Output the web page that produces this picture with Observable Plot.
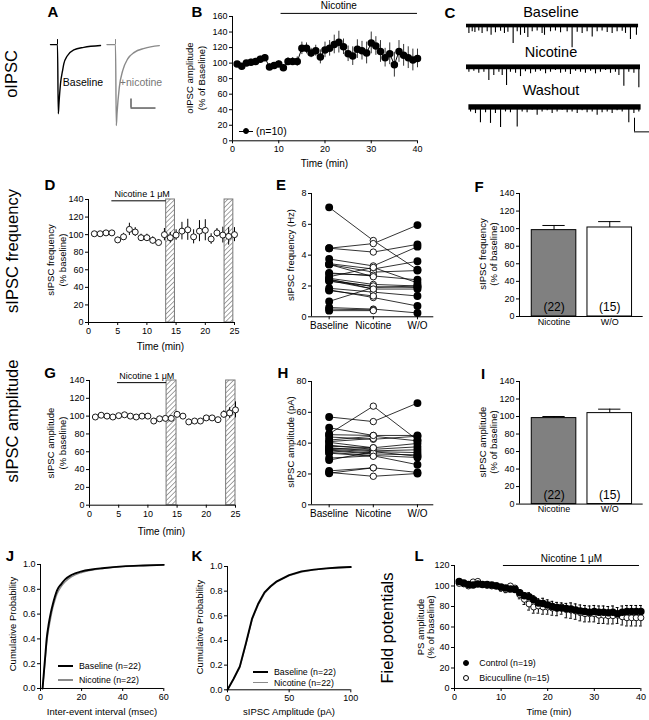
<!DOCTYPE html>
<html><head><meta charset="utf-8">
<script src="https://cdn.jsdelivr.net/npm/d3@7"></script>
<script src="https://cdn.jsdelivr.net/npm/@observablehq/plot@0.6"></script>
<style>
body{margin:0;background:#fff;font-family:"Liberation Sans",Arial,Helvetica,sans-serif;}
#fig{position:relative;width:649px;height:720px;overflow:hidden;background:#fff;}
.t{position:absolute;white-space:nowrap;color:#000;line-height:1;}
.sw{position:absolute;box-sizing:border-box;}
</style></head><body><div id="fig"></div>
<script>
// ---------------- DATA ----------------
// Panel A: evoked IPSC traces (time ms from stimulus, current pA)
const aBaseT = [-7, 0, 0.8, 1.5, 3, 5, 6.3, 9.7, 16.3, 26.3, 43];
const aBaseI = [0, 0, -760, -640, -430, -290, -212, -125, -58, -30, -10];
const aNicT = [-8.5, 0, 0.8, 1.5, 3.8, 7.2, 12.2, 18.8, 28.8, 43.8];
const aNicI = [0, 0, -890, -760, -470, -286, -157, -85, -41, -11];
const aArtifact = 55;          // stimulus artifact height (pA)
const aScale = {t: 15.5, i: -697, ms: 25, pA: 100};

// Panel B: oIPSC amplitude (% of baseline)
const bTime = [1,2,3,4,5,6,7,8,9,10,11,12,13,14,15,16,17,18,19,20,21,22,23,24,25,26,27,28,29,30,31,32,33,34,35,36,37,38,39,40];
const bMean = [99,96,100,101,102,105,107,95,97,99,94,102,102,102,119,119,113,116,108,117,119,124,127,121,112,109,118,116,113,126,122,115,107,112,98,115,110,107,104,106];
const bSem  = [3,3,3,4,4,4,4,4,3,4,4,5,5,6,8,7,6,7,9,10,10,12,14,10,10,12,12,12,14,14,12,14,12,14,16,14,14,14,14,12];
const bNic = {start: 10.5, end: 40, y: 164, lx: 23, label: "Nicotine"};

// Panel C: sIPSC traces, spikes as [time s, amplitude pA]
const cBaseline = [[0.16,30],[0.38,24],[0.56,27],[0.82,21],[1.04,30],[1.38,24],[1.64,37],[1.93,28],[2.27,22],[2.53,30],[2.76,26],[3.11,67],[3.38,24],[3.6,37],[3.87,30],[4.09,45],[4.38,24],[4.71,21],[5.04,30],[5.2,37],[5.6,24],[5.93,21],[6.27,28],[6.71,24],[7.04,83],[7.38,26],[7.71,30],[8.04,24],[8.38,43],[8.71,24],[9.04,21],[9.38,27],[9.71,30],[10.04,24],[10.38,22],[10.6,30],[10.93,52],[11.33,37]];
const cNicotine = [[0.16,22],[0.49,18],[0.82,26],[1.16,22],[1.49,52],[1.82,34],[2.16,22],[2.38,34],[2.67,71],[2.93,22],[3.27,26],[3.6,38],[3.93,20],[4.27,28],[4.6,22],[4.93,18],[5.27,28],[5.6,22],[5.93,16],[6.27,26],[6.6,22],[6.93,30],[7.27,18],[7.6,22],[7.93,26],[8.27,18],[8.6,28],[8.93,22],[9.27,16],[9.6,26],[9.93,22],[10.16,34],[10.49,73],[10.82,22],[11.16,26],[11.49,79]];
const cWashout = [[0.27,21],[0.6,27],[0.93,61],[1.27,24],[1.6,63],[1.93,27],[2.27,78],[2.6,21],[2.93,24],[3.38,76],[3.71,21],[4.04,24],[4.38,15],[4.71,33],[5.04,21],[5.38,17],[5.71,27],[6.04,21],[6.38,15],[6.71,24],[7.04,21],[7.38,27],[7.71,17],[8.04,24],[8.38,21],[8.71,33],[9.04,24],[9.38,21],[9.71,27],[10.04,17],[10.38,21],[10.82,61],[11.16,27],[11.49,21]];
const cSpan = [[0, 11.47], [0, 11.6], [0.16, 11.64]];
const cNoise = [6, 8, 9];
const cNames = ["Baseline", "Nicotine", "Washout"];
const cScale = {t: 11.2, a: -94, s: 1, pA: 50};

// Panel D: sIPSC frequency (% baseline)
const dTime = [1,2,3,4,5,6,7,8,9,10,11,12,13,14,15,16,17,18,19,20,21,22,23,24,25];
const dMean = [101,101,102,102,94,97.5,106,103,96.5,96.5,93.5,91,100,96.5,99.5,104,105.5,97.5,104,105,95,102,99.5,98,100];
const dSem  = [1.5,1.5,1.5,1.5,3,4,7,5,4,4,4,3,7,6,6,10,12,8,12,12,6,5,9,10,8];
const dNic = {start: 4, end: 13.3, y: 138.5, lx: 9.2, label: "Nicotine 1 μM"};
const dWash = [{s: 13.3, e: 14.8}, {s: 23.3, e: 24.8}];

// Panel E: sIPSC frequency (Hz) per cell
const eCats = ["Baseline", "Nicotine", "W/O"];
const eBase = [7.1,4.45,4.45,3.75,3.45,3.4,2.85,2.6,2.5,2.4,2.35,1.85,1.75,1.0,0.6,0.5,0.4,2.8,2.3,3.4,1.7,2.45];
const eNic  = [4.95,4.75,4.2,3.3,3.1,2.9,2.65,3.2,2.1,1.95,1.8,1.6,1.25,1.9,0.5,0.45,0.4,2.7,2.0,2.6,1.35,1.8];
const eWO   = [3.05,5.95,4.7,4.55,3.6,3.0,2.4,2.2,2.0,1.9,1.8,1.35,0.7,2.0,0.25,null,null,null,null,null,null,null];

// Panel F / I: bar summaries
const barCats = ["Nicotine", "W/O"];
const fMean = [98.3, 101.3], fSem = [5.3, 6.7];
const iMean = [98.2, 103.9], iSem = [1.8, 4.5];
const barN = [22, 15];

// Panel G: sIPSC amplitude (% baseline)
const gMean = [99,101,100,99,100.5,101.5,100,99,100,100,94.5,97,97.5,97.5,102,100,93.5,94.5,94.5,98,98,96,102,103.5,107];
const gSem  = [2,2,2,2,2,2,2,2,2,3,3,2,3,3,3,2,3,2,2,2,2,2,4,6,9];
const gNic = {start: 4.8, end: 13.2, y: 137.6, lx: 9.8, label: "Nicotine 1 μM"};
const gWash = [{s: 13.2, e: 14.9}, {s: 23.4, e: 25}];

// Panel H: sIPSC amplitude (pA) per cell
const hBase = [57,50,46,44,42,40.5,38.7,37,36,35,34,30.3,29,22,21,36.5,35.5,33.5,38,41,20.5,45.5];
const hNic  = [54,45,64,42.5,44.5,37,36,35,34.5,33,32,31.8,34.5,24,18.5,36,33.5,31.5,37,43,24,45];
const hWO   = [66,45,42,44.5,41.5,39.8,37.6,35.7,33.9,32.4,30.7,26,31.5,21,20.3,null,null,null,null,null,null,null];

// Panel J: cumulative inter-event interval
const jX    = [1,1.5,2,2.5,3,4,5,6,7,8,10,12,15,20,25,30,40,50,60];
const jBase = [0,0.1,0.2,0.3,0.4,0.52,0.61,0.68,0.74,0.79,0.84,0.88,0.915,0.945,0.96,0.97,0.985,0.992,0.997];
const jNic  = [0,0.09,0.18,0.27,0.36,0.48,0.57,0.65,0.71,0.76,0.82,0.86,0.9,0.935,0.955,0.967,0.983,0.991,0.997];

// Panel K: cumulative amplitude
const kX    = [0,5,10,15,20,25,30,35,40,50,60,70,80,90,100];
const kBase = [0,0.09,0.19,0.38,0.58,0.7,0.79,0.84,0.88,0.93,0.96,0.975,0.985,0.992,0.996];
const kNic  = [0,0.09,0.18,0.37,0.57,0.69,0.78,0.835,0.875,0.925,0.955,0.972,0.983,0.99,0.995];

// Panel L: field potentials
const lCtrl    = [104.5,103,101.5,101,102,101.5,101.5,101,100,99,98,97,96.5,93.5,90.5,89.5,86.5,83.5,83,81.5,80,79,78.5,78,77.5,76.5,75.5,75,74.5,75,74.5,74.5,74,74.5,73,74.5,75,75,75,75];
const lCtrlSem = [2,2,2,2,2,2,2,2,2,2,2,2,3,3,3,4,4,4,5,5,5,5,5,5,6,6,6,6,6,6,6,6,6,6,6,6,6,6,6,6];
const lBic     = [102.5,102,100,104,104.5,101.5,100.5,100,100.5,98,96.5,100,98,91.5,87,82.5,79.5,80.5,79.5,79.5,78.5,78,79.5,77,76.5,75.5,74,73,73,73,71.5,71.5,71,71,71.5,70,69,69,69,69];
const lBicSem  = [2,2,2,2,2,2,2,2,2,3,3,3,3,4,5,6,6,7,7,7,7,7,7,8,8,8,8,8,8,8,8,8,8,8,8,8,8,8,8,8];
const lNic = {start: 10.5, end: 39.7, y: 120, lx: 25.1, label: "Nicotine 1 μM"};

// ---------------- HELPERS ----------------
const FONT = '"Liberation Sans", Arial, Helvetica, sans-serif';
const fig = document.getElementById("fig");

function addText(txt, x, y, o = {}) {
  const d = document.createElement("div");
  d.className = "t";
  d.textContent = txt;
  d.style.fontSize = (o.size || 9.5) + "px";
  d.style.fontWeight = o.weight || "normal";
  d.style.color = o.color || "#000";
  d.style.left = x + "px"; d.style.top = y + "px";
  const tx = o.anchor === "start" ? "0" : o.anchor === "end" ? "-100%" : "-50%";
  d.style.transform = `translate(${tx},-50%)` + (o.rotate ? " rotate(-90deg)" : "");
  fig.appendChild(d);
}
function swLine(x1, x2, y, color, w) {
  const d = document.createElement("div"); d.className = "sw";
  Object.assign(d.style, {left: x1 + "px", top: (y - w / 2) + "px", width: (x2 - x1) + "px", height: w + "px", background: color});
  fig.appendChild(d);
}
function swDot(cx, cy, r, fill) {
  const d = document.createElement("div"); d.className = "sw";
  Object.assign(d.style, {left: (cx - r) + "px", top: (cy - r) + "px", width: 2 * r + "px", height: 2 * r + "px", background: fill, border: "1px solid #000", borderRadius: "50%"});
  fig.appendChild(d);
}
function place(svg, left, top) {
  svg.style.position = "absolute";
  svg.style.left = left + "px";
  svg.style.top = top + "px";
  fig.appendChild(svg);
  return svg;
}
const baseStyle = {fontFamily: FONT, fontSize: "9px", background: "none", overflow: "visible", color: "#000"};

function panel(o) {
  const ml = 34, mr = 14, mt = 14, mb = 22;
  const W = o.x1 - o.x0 + ml + mr, H = o.y1 - o.y0 + mt + mb;
  const marks = [
    Plot.axisX(o.xTicks, {tickSize: o.xTickSize ?? 3, tickPadding: 2, tickFormat: o.xFormat, fontSize: o.xFont ?? 9, label: null}),
    Plot.axisY(o.yTicks, {tickSize: 3, tickPadding: 2, tickFormat: o.yFormat, fontSize: o.yFont ?? 9, label: null}),
    ...o.marks,
    Plot.ruleX([o.xDomain[0]], {stroke: "#000", strokeWidth: 1}),
    Plot.ruleY([o.yDomain[0]], {stroke: "#000", strokeWidth: 1})
  ];
  const svg = Plot.plot({
    width: W, height: H, marginLeft: ml, marginRight: mr, marginTop: mt, marginBottom: mb,
    x: {domain: o.xDomain}, y: {domain: o.yDomain},
    style: baseStyle, marks
  });
  if (o.defs) d3.select(svg).insert("defs", ":first-child").html(o.defs);
  return place(svg, o.x0 - ml, o.y0 - mt);
}
const hatch = id => `<pattern id="${id}" patternUnits="userSpaceOnUse" width="3.4" height="3.4" patternTransform="rotate(45)"><rect width="3.4" height="3.4" fill="#fff"/><line x1="0" y1="0" x2="0" y2="3.4" stroke="#777" stroke-width="1.3"/></pattern>`;
const rows = (xs, ys, es) => xs.map((x, k) => ({t: x, v: ys[k], e: es ? es[k] : 0}));
const range = (a, b, s) => d3.range(a, b + s / 2, s);

// ---------------- PANEL A ----------------
function aTrace(T, I, left, color, extra) {
  const data = T.map((t, k) => ({t, i: I[k]}));
  const svg = Plot.plot({
    width: 60, height: 91, marginLeft: 0, marginRight: 0, marginTop: 0, marginBottom: 0,
    x: {domain: [-10, 50], axis: null}, y: {domain: [-900, 100], axis: null},
    style: baseStyle,
    marks: [
      Plot.ruleX([0], {y1: 0, y2: aArtifact, stroke: color, strokeWidth: 1}),
      Plot.line(data, {x: "t", y: "i", stroke: color, strokeWidth: 1.4, curve: "monotone-x"}),
      ...(extra || [])
    ]
  });
  place(svg, left, 34.9);
}
aTrace(aBaseT, aBaseI, 47, "#000");
aTrace(aNicT, aNicI, 104.5, "#8a8a8a", [
  Plot.ruleX([aScale], {x: "t", y1: "i", y2: d => d.i + d.pA, stroke: "#444", strokeWidth: 1.3}),
  Plot.ruleY([aScale], {y: "i", x1: "t", x2: d => d.t + d.ms, stroke: "#444", strokeWidth: 1.3})
]);
addText("Baseline", 83, 82, {size: 10.5});
addText("+nicotine", 141, 82, {size: 10.5, color: "#777"});

// ---------------- PANEL B ----------------
const bRows = rows(bTime, bMean, bSem);
panel({
  x0: 232, x1: 417, y0: 15.7, y1: 140, xDomain: [0, 40], yDomain: [0, 160],
  xTicks: [0, 10, 20, 30, 40], yTicks: range(0, 160, 20),
  marks: [
    Plot.ruleY([bNic], {y: "y", x1: "start", x2: "end", stroke: "#000"}),
    Plot.text([bNic], {x: "lx", y: "y", text: "label", dy: -8, fontSize: 10}),
    Plot.ruleX(bRows, {x: "t", y1: d => d.v - d.e, y2: d => d.v + d.e, stroke: "#333", strokeWidth: 1}),
    Plot.line(bRows, {x: "t", y: "v", stroke: "#000", strokeWidth: 1}),
    Plot.dot(bRows, {x: "t", y: "v", r: 3, fill: "#000", stroke: "#000"})
  ]
});
swLine(239, 253, 131, "#000", 1); swDot(246, 131, 3, "#000");
addText("(n=10)", 256, 131, {size: 10.5, anchor: "start"});
addText("Time (min)", 324.5, 164, {size: 10});
addText("oIPSC amplitude", 189.5, 78, {size: 9.5, rotate: true});
addText("(% of Baseline)", 201.5, 78, {size: 9.5, rotate: true});

// ---------------- PANEL C ----------------
const cTraces = [cBaseline, cNicotine, cWashout];
const cCenters = [25, 65.7, 106];
const cLabelY = [11.7, 52.3, 90];
cTraces.forEach((sp, k) => {
  const spikes = sp.map(([t, a]) => ({t, a}));
  const extra = k === 2 ? [
    Plot.ruleX([cScale], {x: "t", y1: "a", y2: d => d.a + d.pA, stroke: "#000", strokeWidth: 1}),
    Plot.ruleY([cScale], {y: "a", x1: "t", x2: d => d.t + d.s, stroke: "#000", strokeWidth: 1})
  ] : [];
  const svg = Plot.plot({
    width: 190.5, height: 30, marginLeft: 6, marginRight: 12, marginTop: 0, marginBottom: 0,
    x: {domain: [0, 11.5], axis: null}, y: {domain: [-100, 10], axis: null},
    style: baseStyle,
    marks: [
      Plot.rect([{s: cSpan[k][0], e: cSpan[k][1], n: cNoise[k]}], {x1: "s", x2: "e", y1: d => -d.n * 1.6, y2: d => d.n * 0.6, fill: "#000"}),
      Plot.ruleX(spikes, {x: "t", y1: 0, y2: d => -d.a, stroke: "#000", strokeWidth: 1.1}),
      ...extra
    ]
  });
  place(svg, 460, cCenters[k] - 30 * 10 / 110);
  addText(cNames[k], 551, cLabelY[k], {size: 14.5});
});

// ---------------- PANEL D ----------------
const dRows = rows(dTime, dMean, dSem);
panel({
  x0: 87.5, x1: 233.5, y0: 198.7, y1: 321.7, xDomain: [0, 25], yDomain: [0, 140],
  xTicks: [0, 5, 10, 15, 20, 25], yTicks: range(0, 140, 20), defs: hatch("hatchD"),
  marks: [
    Plot.rect(dWash, {x1: "s", x2: "e", y1: 0, y2: 140, fill: "url(#hatchD)", stroke: "#777", strokeWidth: 1}),
    Plot.ruleY([dNic], {y: "y", x1: "start", x2: "end", stroke: "#000"}),
    Plot.text([dNic], {x: "lx", y: "y", text: "label", dy: -7, fontSize: 9}),
    Plot.ruleX(dRows, {x: "t", y1: d => d.v - d.e, y2: d => d.v + d.e, stroke: "#000"}),
    Plot.dot(dRows, {x: "t", y: "v", r: 3, fill: "#fff", stroke: "#000", strokeWidth: 0.9})
  ]
});
addText("Time (min)", 160.5, 346.7, {size: 10});
addText("sIPSC frequency", 51, 260, {size: 9.5, rotate: true});
addText("(% baseline)", 63, 260, {size: 9.5, rotate: true});

// ---------------- PANEL E / H (paired) ----------------
function paired(base, nic, wo) {
  const out = [];
  base.forEach((v, c) => {
    out.push({cell: c, i: 0, v});
    out.push({cell: c, i: 1, v: nic[c]});
    if (wo[c] != null) out.push({cell: c, i: 2, v: wo[c]});
  });
  return out;
}
function pairedPanel(y0, y1, yMax, yStep, data) {
  panel({
    x0: 310.7, x1: 433, y0, y1, xDomain: [-0.4, 2.37], yDomain: [0, yMax],
    xTicks: [0, 1, 2], xFormat: i => eCats[i], xFont: 10, yTicks: range(0, yMax, yStep),
    marks: [
      Plot.line(data, {x: "i", y: "v", z: "cell", stroke: "#000", strokeWidth: 0.8}),
      Plot.dot(data.filter(d => d.i !== 1), {x: "i", y: "v", r: 3.2, fill: "#000", stroke: "#000"}),
      Plot.dot(data.filter(d => d.i === 1), {x: "i", y: "v", r: 3.2, fill: "#fff", stroke: "#000", strokeWidth: 0.9})
    ]
  });
}
pairedPanel(192.7, 316, 8, 2, paired(eBase, eNic, eWO));
addText("sIPSC frequency (Hz)", 291, 255, {size: 9.5, rotate: true});
pairedPanel(380.7, 504, 80, 20, paired(hBase, hNic, hWO));
addText("sIPSC amplitude (pA)", 291, 442, {size: 9.5, rotate: true});

// ---------------- PANEL F / I (bars) ----------------
function barPanel(y0, y1, mean, sem) {
  const data = mean.map((v, i) => ({i, v, e: sem[i], n: barN[i]}));
  panel({
    x0: 519.3, x1: 643, y0, y1, xDomain: [-0.62, 1.6], yDomain: [0, 140],
    xTicks: [0, 1], xFormat: i => barCats[i], xTickSize: 0, yTicks: range(0, 140, 20),
    marks: [
      Plot.ruleX(data, {x: "i", y1: "v", y2: d => d.v + d.e, stroke: "#000"}),
      Plot.ruleY(data, {y: d => d.v + d.e, x1: d => d.i - 0.2, x2: d => d.i + 0.2, stroke: "#000"}),
      Plot.rect(data.slice(0, 1), {x1: d => d.i - 0.4, x2: d => d.i + 0.4, y1: 0, y2: "v", fill: "#808080", stroke: "#000"}),
      Plot.rect(data.slice(1), {x1: d => d.i - 0.4, x2: d => d.i + 0.4, y1: 0, y2: "v", fill: "#fff", stroke: "#000"}),
      Plot.text(data, {x: "i", y: 0, text: d => `(${d.n})`, dy: -9, fontSize: 12})
    ]
  });
}
barPanel(192.7, 315.7, fMean, fSem);
addText("sIPSC frequency", 483, 254, {size: 9.5, rotate: true});
addText("(% of baseline)", 494, 254, {size: 9.5, rotate: true});
barPanel(380.7, 503.3, iMean, iSem);
addText("sIPSC amplitude", 483, 442, {size: 9.5, rotate: true});
addText("(% of baseline)", 494, 442, {size: 9.5, rotate: true});

// ---------------- PANEL G ----------------
const gRows = rows(dTime, gMean, gSem);
panel({
  x0: 88.5, x1: 234.5, y0: 380.3, y1: 505, xDomain: [0, 25], yDomain: [0, 140],
  xTicks: [0, 5, 10, 15, 20, 25], yTicks: range(0, 140, 20), defs: hatch("hatchG"),
  marks: [
    Plot.rect(gWash, {x1: "s", x2: "e", y1: 0, y2: 140, fill: "url(#hatchG)", stroke: "#777", strokeWidth: 1}),
    Plot.ruleY([gNic], {y: "y", x1: "start", x2: "end", stroke: "#000"}),
    Plot.text([gNic], {x: "lx", y: "y", text: "label", dy: -7, fontSize: 9}),
    Plot.ruleX(gRows, {x: "t", y1: d => d.v - d.e, y2: d => d.v + d.e, stroke: "#000"}),
    Plot.dot(gRows, {x: "t", y: "v", r: 3, fill: "#fff", stroke: "#000", strokeWidth: 0.9})
  ]
});
addText("Time (min)", 161.5, 531.7, {size: 10});
addText("sIPSC amplitude", 51, 443, {size: 9.5, rotate: true});
addText("(% baseline)", 63, 443, {size: 9.5, rotate: true});

// ---------------- PANEL J ----------------
const jB = jX.map((x, k) => ({x, y: jBase[k]})), jN = jX.map((x, k) => ({x, y: jNic[k]}));
panel({
  x0: 40, x1: 163.3, y0: 564.3, y1: 688.3, xDomain: [0, 60], yDomain: [0, 1],
  xTicks: [0, 20, 40, 60], yTicks: range(0, 1, 0.2), yFormat: d3.format(".1f"),
  marks: [
    Plot.line(jN, {x: "x", y: "y", stroke: "#8a8a8a", strokeWidth: 1.3, curve: "monotone-x"}),
    Plot.line(jB, {x: "x", y: "y", stroke: "#000", strokeWidth: 1.9, curve: "monotone-x"})
  ]
});
swLine(58, 73, 665.7, "#000", 2); addText("Baseline (n=22)", 79, 665.7, {size: 8.8, anchor: "start"});
swLine(58, 73, 680, "#8a8a8a", 1.2); addText("Nicotine (n=22)", 79, 680, {size: 8.8, anchor: "start"});
addText("Inter-event interval (msec)", 102, 712, {size: 9.5});
addText("Cumulative Probability", 13, 624, {size: 9.5, rotate: true});

// ---------------- PANEL K ----------------
const kB = kX.map((x, k) => ({x, y: kBase[k]})), kN = kX.map((x, k) => ({x, y: kNic[k]}));
panel({
  x0: 226.7, x1: 350, y0: 565.7, y1: 689, xDomain: [0, 100], yDomain: [0, 1],
  xTicks: [0, 50, 100], yTicks: range(0, 1, 0.2), yFormat: d3.format(".1f"),
  marks: [
    Plot.line(kN, {x: "x", y: "y", stroke: "#8a8a8a", strokeWidth: 1.3}),
    Plot.line(kB, {x: "x", y: "y", stroke: "#000", strokeWidth: 1.9})
  ]
});
swLine(253, 268, 672, "#000", 2); addText("Baseline (n=22)", 274, 672, {size: 8.8, anchor: "start"});
swLine(253, 268, 682.7, "#8a8a8a", 1.2); addText("Nicotine (n=22)", 274, 682.7, {size: 8.8, anchor: "start"});
addText("sIPSC Amplitude (pA)", 289, 712, {size: 9.5});
addText("Cumulative Probability", 200, 627, {size: 9.5, rotate: true});

// ---------------- PANEL L ----------------
const lC = rows(bTime, lCtrl, lCtrlSem), lB = rows(bTime, lBic, lBicSem);
panel({
  x0: 454.3, x1: 640.7, y0: 565.3, y1: 688.3, xDomain: [0, 40], yDomain: [0, 120],
  xTicks: [0, 10, 20, 30, 40], yTicks: range(0, 120, 20),
  marks: [
    Plot.ruleY([lNic], {y: "y", x1: "start", x2: "end", stroke: "#000"}),
    Plot.text([lNic], {x: "lx", y: "y", text: "label", dy: -7, fontSize: 10}),
    Plot.ruleX(lB, {x: "t", y1: d => d.v - d.e, y2: "v", stroke: "#000"}),
    Plot.ruleY(lB, {y: d => d.v - d.e, x1: d => d.t - 0.3, x2: d => d.t + 0.3, stroke: "#000"}),
    Plot.ruleX(lC, {x: "t", y1: "v", y2: d => d.v + d.e, stroke: "#000"}),
    Plot.ruleY(lC, {y: d => d.v + d.e, x1: d => d.t - 0.3, x2: d => d.t + 0.3, stroke: "#000"}),
    Plot.dot(lB, {x: "t", y: "v", r: 3, fill: "#fff", stroke: "#000", strokeWidth: 0.9}),
    Plot.dot(lC, {x: "t", y: "v", r: 3, fill: "#000", stroke: "#000"})
  ]
});
swDot(465.7, 663, 3, "#000"); addText("Control (n=19)", 479.3, 663, {size: 8.8, anchor: "start"});
swDot(465.7, 678, 3, "#fff"); addText("Bicuculline (n=15)", 479.3, 678, {size: 8.8, anchor: "start"});
addText("Time (min)", 549, 712, {size: 9.5});
addText("PS amplitude", 420.5, 627, {size: 9.5, rotate: true});
addText("(% of baseline)", 431, 627, {size: 9.5, rotate: true});

// ---------------- ROW LABELS & PANEL LETTERS ----------------
addText("oIPSC", 11, 73.5, {size: 16.5, rotate: true});
addText("sIPSC frequency", 12, 251, {size: 16.5, rotate: true});
addText("sIPSC amplitude", 12, 421, {size: 16.5, rotate: true});
addText("Field potentials", 386.7, 628, {size: 16.5, rotate: true});
const letters = [["A",53,11],["B",197,11],["C",450,12],["D",50,184],["E",281,184],["F",479,186],
                 ["G",50,372],["H",283,372],["I",483,373],["J",10,555],["K",197,555],["L",419,555]];
letters.forEach(([s, x, y]) => addText(s, x, y, {size: 15, weight: "bold"}));
</script></body></html>
